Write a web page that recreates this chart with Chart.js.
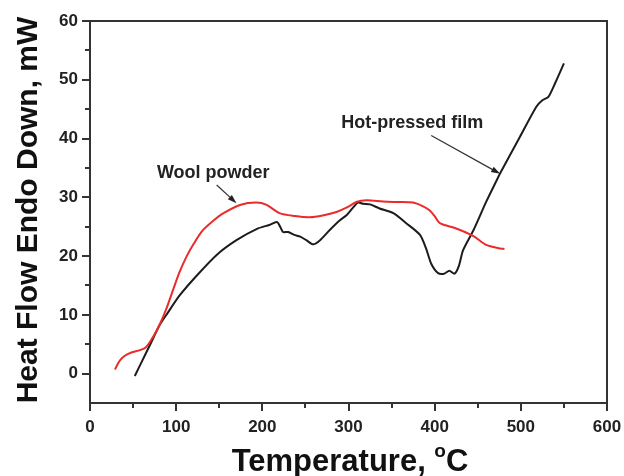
<!DOCTYPE html>
<html>
<head>
<meta charset="utf-8">
<script src="https://cdn.jsdelivr.net/npm/chart.js@4"></script>
<style>
  html, body { margin: 0; padding: 0; background: #fff; }
  canvas { display: block; }
</style>
</head>
<body>
<canvas id="dsc" width="624" height="476"></canvas>
<script>
// DSC curves (Temperature in °C, heat flow in mW)
var woolTemp = [29, 32, 35, 40, 48, 58, 65, 73, 81, 89, 97, 104, 112, 120, 131, 143, 155, 174, 193, 205, 220, 238, 255, 270, 286, 300, 309, 321, 340, 356, 375, 386, 394, 400, 406, 425, 445, 460, 476, 481];
var woolFlow = [0.7, 1.6, 2.3, 3.0, 3.6, 4.0, 4.5, 6.2, 8.4, 11.2, 14.5, 17.3, 19.9, 22.0, 24.4, 26.0, 27.3, 28.7, 29.1, 28.7, 27.3, 26.8, 26.6, 26.9, 27.5, 28.4, 29.2, 29.5, 29.3, 29.2, 29.1, 28.5, 27.8, 26.8, 25.6, 24.7, 23.4, 21.9, 21.3, 21.2];

var filmTemp = [52, 60, 70, 81, 90, 104, 124, 147, 170, 195, 208, 217, 221, 224, 230, 237, 244, 251, 259, 267, 278, 290, 298, 305, 311, 317, 325, 336, 352, 367, 383, 390, 396, 404, 411, 417, 423, 428, 433, 445, 460, 472, 476, 499, 518, 525, 532, 540, 550];
var filmFlow = [-0.4, 2.0, 5.0, 8.3, 10.3, 13.3, 16.7, 20.2, 22.7, 24.7, 25.3, 25.8, 24.9, 24.1, 24.1, 23.6, 23.3, 22.7, 22.0, 22.7, 24.4, 26.1, 27.0, 28.2, 29.1, 28.9, 28.8, 28.1, 27.3, 25.6, 23.6, 21.3, 18.7, 17.1, 17.0, 17.5, 17.0, 18.3, 21.0, 24.4, 29.3, 32.9, 34.1, 40.3, 45.4, 46.5, 47.1, 49.5, 52.8];

var xTicks = [0, 100, 200, 300, 400, 500, 600];
var yTicks = [0, 10, 20, 30, 40, 50, 60];

// labels with arrows, in data units: [text, textX, textY, fromX, fromY, toX, toY]
var notes = [
  ['Wool powder', 143, 34.1, 147, 32.1, 170, 29.0],
  ['Hot-pressed film', 374, 42.6, 396, 40.5, 476, 34.0]
];

function pts(xs, ys) {
  return xs.map(function (v, i) { return { x: v, y: ys[i] }; });
}

var FONT = '"Liberation Sans", Arial, sans-serif';

var decor = {
  id: 'decor',
  afterDraw: function (chart) {
    var ctx = chart.ctx, a = chart.chartArea, x = chart.scales.x, y = chart.scales.y;
    ctx.save();
    ctx.strokeStyle = '#333';
    ctx.lineWidth = 2;
    ctx.strokeRect(a.left, a.top, a.right - a.left, a.bottom - a.top);

    ctx.beginPath();
    for (var v = 0; v <= 600; v += 50) {
      var px = Math.round(x.getPixelForValue(v));
      ctx.moveTo(px, a.bottom);
      ctx.lineTo(px, a.bottom + (v % 100 ? 5 : 8));
    }
    for (var w = 0; w <= 60; w += 5) {
      var py = Math.round(y.getPixelForValue(w));
      ctx.moveTo(a.left, py);
      ctx.lineTo(a.left - (w % 10 ? 5 : 8), py);
    }
    ctx.stroke();

    // notes and arrows
    ctx.fillStyle = '#222';
    ctx.strokeStyle = '#333';
    ctx.lineWidth = 1.2;
    ctx.font = 'bold 18px ' + FONT;
    ctx.textAlign = 'center';
    ctx.textBaseline = 'middle';
    notes.forEach(function (n) {
      ctx.fillText(n[0], x.getPixelForValue(n[1]), y.getPixelForValue(n[2]));
      var x0 = x.getPixelForValue(n[3]), y0 = y.getPixelForValue(n[4]);
      var x1 = x.getPixelForValue(n[5]), y1 = y.getPixelForValue(n[6]);
      var ang = Math.atan2(y1 - y0, x1 - x0);
      ctx.beginPath();
      ctx.moveTo(x0, y0);
      ctx.lineTo(x1 - 6 * Math.cos(ang), y1 - 6 * Math.sin(ang));
      ctx.stroke();
      ctx.beginPath();
      ctx.moveTo(x1, y1);
      ctx.lineTo(x1 - 9 * Math.cos(ang) + 3 * Math.sin(ang), y1 - 9 * Math.sin(ang) - 3 * Math.cos(ang));
      ctx.lineTo(x1 - 9 * Math.cos(ang) - 3 * Math.sin(ang), y1 - 9 * Math.sin(ang) + 3 * Math.cos(ang));
      ctx.closePath();
      ctx.fill();
    });

    // axis titles
    ctx.fillStyle = '#111';
    ctx.textBaseline = 'alphabetic';
    ctx.font = 'bold 30px ' + FONT;
    ctx.save();
    ctx.translate(37, 210);
    ctx.rotate(-Math.PI / 2);
    ctx.textAlign = 'center';
    ctx.fillText('Heat Flow Endo Down, mW', 0, 0);
    ctx.restore();

    var t1 = 'Temperature, ', t2 = 'o', t3 = 'C';
    ctx.font = 'bold 31px ' + FONT;
    var w1 = ctx.measureText(t1).width, w3 = ctx.measureText(t3).width;
    ctx.font = 'bold 19px ' + FONT;
    var w2 = ctx.measureText(t2).width;
    var sx = 350 - (w1 + w2 + w3) / 2;
    ctx.textAlign = 'left';
    ctx.font = 'bold 31px ' + FONT;
    ctx.fillText(t1, sx, 471);
    ctx.fillText(t3, sx + w1 + w2, 471);
    ctx.font = 'bold 19px ' + FONT;
    ctx.fillText(t2, sx + w1, 457);
    ctx.restore();
  }
};

new Chart(document.getElementById('dsc'), {
  type: 'scatter',
  data: {
    datasets: [{
      label: 'Wool powder',
      data: pts(woolTemp, woolFlow),
      showLine: true,
      borderColor: '#ec2a2a',
      borderWidth: 2,
      pointRadius: 0,
      tension: 0.3
    }, {
      label: 'Hot-pressed film',
      data: pts(filmTemp, filmFlow),
      showLine: true,
      borderColor: '#1c1c1c',
      borderWidth: 2,
      pointRadius: 0,
      tension: 0.25
    }]
  },
  options: {
    responsive: false,
    devicePixelRatio: 1,
    animation: false,
    layout: { padding: { top: 21, right: 17, left: 0, bottom: 0 } },
    plugins: { legend: { display: false }, tooltip: { enabled: false } },
    scales: {
      x: {
        type: 'linear', min: 0, max: 600,
        afterFit: function (s) { s.height = 73; s.paddingLeft = 0; s.paddingRight = 0; },
        afterBuildTicks: function (s) { s.ticks = xTicks.map(function (v) { return { value: v }; }); },
        grid: { display: false, drawTicks: false },
        border: { display: false },
        ticks: { padding: 14, color: '#222', font: { family: FONT, size: 17, weight: 'bold' }, maxRotation: 0 }
      },
      y: {
        type: 'linear', min: -5, max: 60,
        afterFit: function (s) { s.width = 90; s.paddingTop = 0; s.paddingBottom = 0; },
        afterBuildTicks: function (s) { s.ticks = yTicks.map(function (v) { return { value: v }; }); },
        grid: { display: false, drawTicks: false },
        border: { display: false },
        ticks: { padding: 12, color: '#222', font: { family: FONT, size: 17, weight: 'bold' } }
      }
    }
  },
  plugins: [decor]
});
</script>
</body>
</html>
